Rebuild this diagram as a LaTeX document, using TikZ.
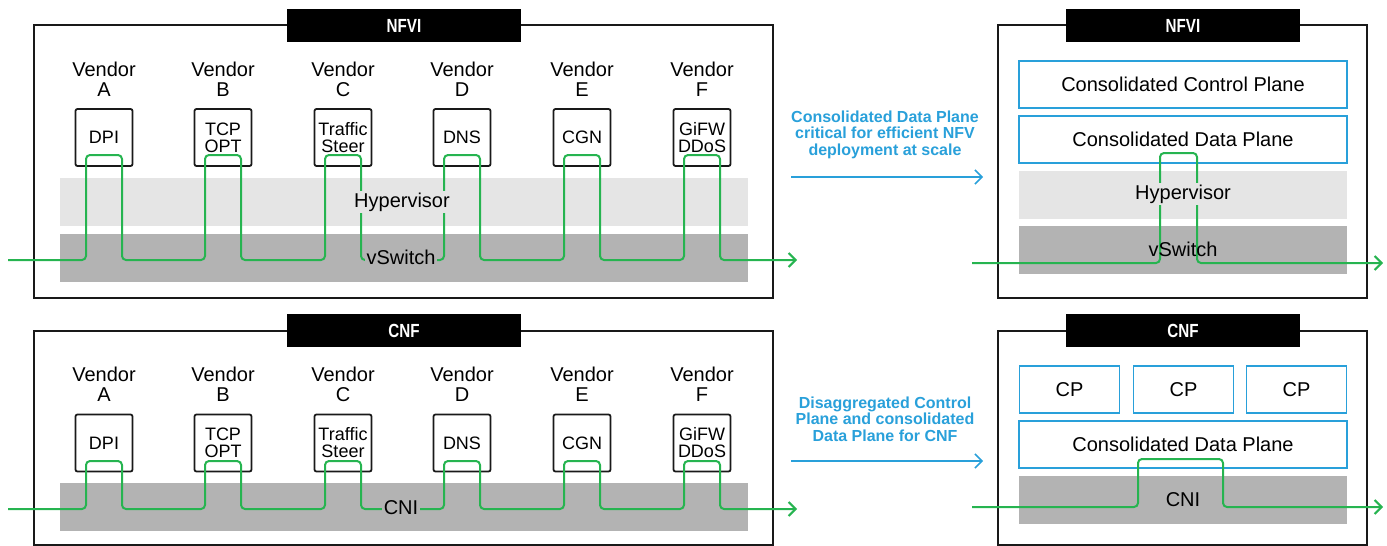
\documentclass[tikz,border=0pt]{standalone}
\usepackage{graphicx}
\usepackage{fontspec}
\setmainfont{Liberation Sans}
\usetikzlibrary{calc,positioning,arrows.meta}
\definecolor{nfGreen}{RGB}{38,180,80}
\definecolor{nfBlue}{RGB}{41,160,218}
\definecolor{nfLight}{RGB}{229,229,229}
\definecolor{nfDark}{RGB}{179,179,179}
\tikzset{
 nf frame/.style={draw=black!90,line width=.9pt},
 nf header/.style={fill=black,text=white,minimum width=117pt,minimum height=16.5pt,
                   inner sep=0pt,font=\bfseries\fontsize{9.5}{10}\selectfont},
 nf vendor/.style={align=center,inner sep=0pt,font=\fontsize{10}{10}\selectfont},
 nf func/.style={draw=black!90,line width=.9pt,rounded corners=1pt,minimum size=28.5pt,
                 inner sep=0pt,align=center,font=\fontsize{9}{8.5}\selectfont},
 nf band/.style={minimum width=344pt,minimum height=24pt,inner sep=0pt},
 nf plane/.style={draw=nfBlue,line width=.9pt,minimum height=23.5pt,inner sep=0pt,
                  font=\fontsize{10}{12}\selectfont},
 nf band label/.style={inner sep=1pt,font=\fontsize{10}{12}\selectfont},
 nf flow/.style={draw=nfGreen,line width=1pt,rounded corners=2pt},
 nf tip/.style={-{Straight Barb[length=3.5pt,width=7pt]}},
 nf note/.style={align=center,text=nfBlue,font=\bfseries\fontsize{8}{8.25}\selectfont},
 nf note arrow/.style={draw=nfBlue,line width=.75pt,-{Straight Barb[length=3.5pt,width=7pt]}}
}
\begin{document}
\begin{tikzpicture}[x=.5pt,y=-.5pt]
 \useasboundingbox (0,0) rectangle (1387,546);
 % frames and headers
 \draw[nf frame] (34,25) rectangle (773,298);
 \draw[nf frame] (34,331) rectangle (773,545);
 \draw[nf frame] (998,25) rectangle (1367,298);
 \draw[nf frame] (998,331) rectangle (1367,545);
 \node[nf header] (hdNfviL) at (404,25.5) {\scalebox{.8}[1]{NFVI}};
 \node[nf header] (hdCnfL) at (404,330.5) {\scalebox{.8}[1]{CNF}};
 \node[nf header] (hdNfviR) at (1183,25.5) {\scalebox{.8}[1]{NFVI}};
 \node[nf header] (hdCnfR) at (1183,330.5) {\scalebox{.8}[1]{CNF}};

 % vendor rows
 \node[nf band,fill=nfLight] (hypL) at (404,202) {};
 \node[nf band,fill=nfDark] (vswL) at (404,258) {};
 \node[nf band,fill=nfDark] (cniL) at (404,507) {};
 \foreach \r/\yv/\yf/\yt in {t/79/137.5/155,b/384/443/461}{
   \foreach \v/\x/\f in {A/104/DPI,B/223/{TCP\\OPT},C/343/{Traffic\\Steer},
                         D/462/DNS,E/582/CGN,F/702/{GiFW\\DDoS}}{
     \node[nf vendor] (ven\r\v) at (\x,\yv) {Vendor\\\v};
     \node[nf func] (fn\r\v) at (\x,\yf) {\f};
     \coordinate (lp\r\v) at (\x-18,\yt);
     \coordinate (rp\r\v) at (\x+18,\yt);
   }
 }
 \coordinate (inT) at (8,260);
 \coordinate (outT) at (797,260);
 \coordinate (inB) at (8,509);
 \coordinate (outB) at (797,509);
 \draw[nf flow,nf tip] (inT)
   \foreach \v in {A,B,C,D,E,F}{ -- (lpt\v |- inT) -- (lpt\v) -- (rpt\v) -- (rpt\v |- inT)}
   -- (outT);
 \draw[nf flow,nf tip] (inB)
   \foreach \v in {A,B,C,D,E,F}{ -- (lpb\v |- inB) -- (lpb\v) -- (rpb\v) -- (rpb\v |- inB)}
   -- (outB);
 \node[nf band label,fill=nfLight] (hypLtxt) at (402,202) {Hypervisor};
 \node[nf band label,fill=nfDark] (vswLtxt) at (401,257) {vSwitch};
 \node[nf band label,fill=nfDark] (cniLtxt) at (401,508) {CNI};

 % notes
 \node[nf note] (noteT) at (885,134.5)
   {Consolidated Data Plane\\critical for efficient NFV\\deployment at scale};
 \node[nf note] (noteB) at (885,419)
   {Disaggregated Control\\Plane and consolidated\\Data Plane for CNF};
 \coordinate (naT) at (791,177);
 \coordinate (nbT) at (983,177);
 \coordinate (naB) at (791,461);
 \coordinate (nbB) at (983,461);
 \draw[nf note arrow] (naT) -- (nbT);
 \draw[nf note arrow] (naB) -- (nbB);

 % consolidated NFVI
 \node[nf plane,minimum width=164pt] (ccp) at (1183,84.5) {Consolidated Control Plane};
 \node[nf plane,minimum width=164pt] (cdpT) at (1183,139.5) {Consolidated Data Plane};
 \node[nf band,minimum width=164pt,fill=nfLight] (hypR) at (1183,195) {};
 \node[nf band,minimum width=164pt,fill=nfDark] (vswR) at (1183,250) {};
 \coordinate (inTR) at (972,263);
 \coordinate (outTR) at (1383,263);
 \coordinate (lpR) at (1160,153);
 \coordinate (rpR) at (1197,153);
 \draw[nf flow,nf tip] (inTR) -- (lpR |- inTR) -- (lpR) -- (rpR) -- (rpR |- inTR) -- (outTR);
 \node[nf band label,fill=nfLight] (hypRtxt) at (1183,194) {Hypervisor};
 \node[nf band label] (vswRtxt) at (1183,249) {vSwitch};

 % consolidated CNF
 \foreach \c/\x in {1/1069.5,2/1183.5,3/1296.5}{
   \node[nf plane,minimum width=50pt] (cp\c) at (\x,389.5) {CP};
 }
 \node[nf plane,minimum width=164pt] (cdpB) at (1183,444.5) {Consolidated Data Plane};
 \node[nf band,minimum width=164pt,fill=nfDark] (cniR) at (1183,499.5) {};
 \coordinate (inBR) at (972,507);
 \coordinate (outBR) at (1383,507);
 \coordinate (lpC) at (1138,459);
 \coordinate (rpC) at (1223,459);
 \draw[nf flow,nf tip] (inBR) -- (lpC |- inBR) -- (lpC) -- (rpC) -- (rpC |- inBR) -- (outBR);
 \node[nf band label] (cniRtxt) at (1183,500) {CNI};
\end{tikzpicture}
\end{document}
